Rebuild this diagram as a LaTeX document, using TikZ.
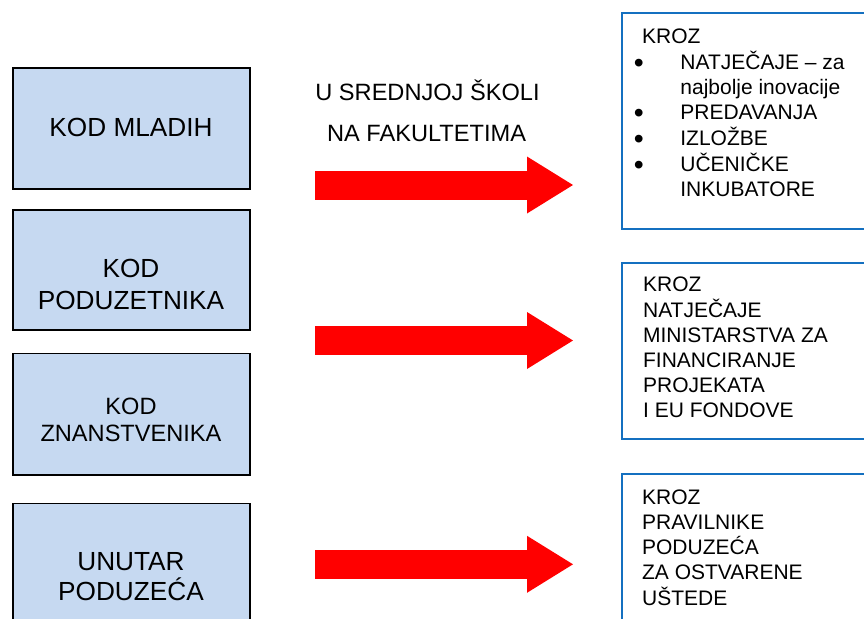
\documentclass[tikz,border=0pt]{standalone}
\usepackage{fontspec}
\setmainfont{Liberation Sans}
\usetikzlibrary{arrows.meta}
\definecolor{boxblue}{RGB}{198,217,241}
\definecolor{edgeblue}{RGB}{20,112,192}
\newcommand{\bul}{\raisebox{-0.3ex}{\scalebox{1.35}{\textbullet}}}

\begin{document}
\begin{tikzpicture}[x=0.5pt,y=-0.5pt]
      \tikzstyle{leftbox}=[draw=black,line width=0.85pt,fill=boxblue,minimum width=118.5pt,inner sep=0pt,anchor=north west]
      \tikzstyle{rightbox}=[draw=edgeblue,line width=1pt,fill=white,minimum width=160pt,inner sep=0pt,anchor=north west]
      \tikzstyle{bigtxt}=[align=center,inner sep=0pt,font=\fontsize{13.1}{16}\selectfont]
      \tikzstyle{midtxt}=[anchor=base west,inner sep=0pt,font=\fontsize{11.8}{14}\selectfont]
      \tikzstyle{righttxt}=[anchor=base west,inner sep=0pt,font=\fontsize{10.5}{12.5}\selectfont]
      \tikzstyle{redarrow}=[draw=red,line width=14.5pt,-{Triangle[length=23pt,width=28.5pt,line width=0pt]}]
      \useasboundingbox (0,0) rectangle (864,618);
      \clip (0,0) rectangle (864,618);

      \node[leftbox,minimum height=60.5pt] (boxmladi) at (12.3,67.3) {};
      \node[leftbox,minimum height=60pt] (boxpoduz) at (12.3,209) {};
      \node[leftbox,minimum height=60.6pt] (boxznan) at (12.3,352.7) {};
      \node[leftbox,minimum height=60.5pt] (boxunutar) at (12.3,502.7) {};

      \node[bigtxt] (mladi) at (131,127.7) {KOD MLADIH};
      \node[bigtxt] (poduz) at (131,284) {KOD\\PODUZETNIKA};
      \node[bigtxt,font=\fontsize{11.8}{13.3}\selectfont] (znan) at (131,420) {KOD\\ZNANSTVENIKA};
      \node[bigtxt,font=\fontsize{13.1}{15}\selectfont] (unutar) at (131,577) {UNUTAR\\PODUZEĆA};

      \node[midtxt] (skola) at (315,100) {U SREDNJOJ ŠKOLI};
      \node[midtxt] (faks) at (326.7,141) {NA FAKULTETIMA};

      \coordinate (arra1) at (315,185);
      \coordinate (arra2) at (573,185);
      \coordinate (arrb1) at (315,340.5);
      \coordinate (arrb2) at (573,340.5);
      \coordinate (arrc1) at (315,564.3);
      \coordinate (arrc2) at (573,564.3);
      \draw[redarrow] (arra1) -- (arra2);
      \draw[redarrow] (arrb1) -- (arrb2);
      \draw[redarrow] (arrc1) -- (arrc2);

      \node[rightbox,minimum height=108pt] (kroza) at (621,12) {};
      \node[rightbox,minimum height=88pt] (krozb) at (621,262) {};
      \node[rightbox,minimum height=80pt] (krozc) at (621,473) {};

      \node[righttxt] (txta) at (633.5,43.5) {\begin{tabular}[t]{@{}p{23.25pt}@{}l@{}}
        \multicolumn{2}{@{\hspace{4.1pt}}l@{}}{KROZ}\\
        \bul & NATJEČAJE – za\\
             & najbolje inovacije\\
        \bul & PREDAVANJA\\
        \bul & IZLOŽBE\\
        \bul & UČENIČKE\\
             & INKUBATORE
      \end{tabular}};
      \node[righttxt] (txtb) at (642.7,291.7) {\begin{tabular}[t]{@{}l@{}}
        KROZ\\
        NATJEČAJE\\
        MINISTARSTVA ZA\\
        FINANCIRANJE\\
        PROJEKATA\\
        I EU FONDOVE
      \end{tabular}};
      \node[righttxt] (txtc) at (641.7,504) {\begin{tabular}[t]{@{}l@{}}
        KROZ\\
        PRAVILNIKE\\
        PODUZEĆA\\
        ZA OSTVARENE\\
        UŠTEDE
      \end{tabular}};
    \end{tikzpicture}
\end{document}
